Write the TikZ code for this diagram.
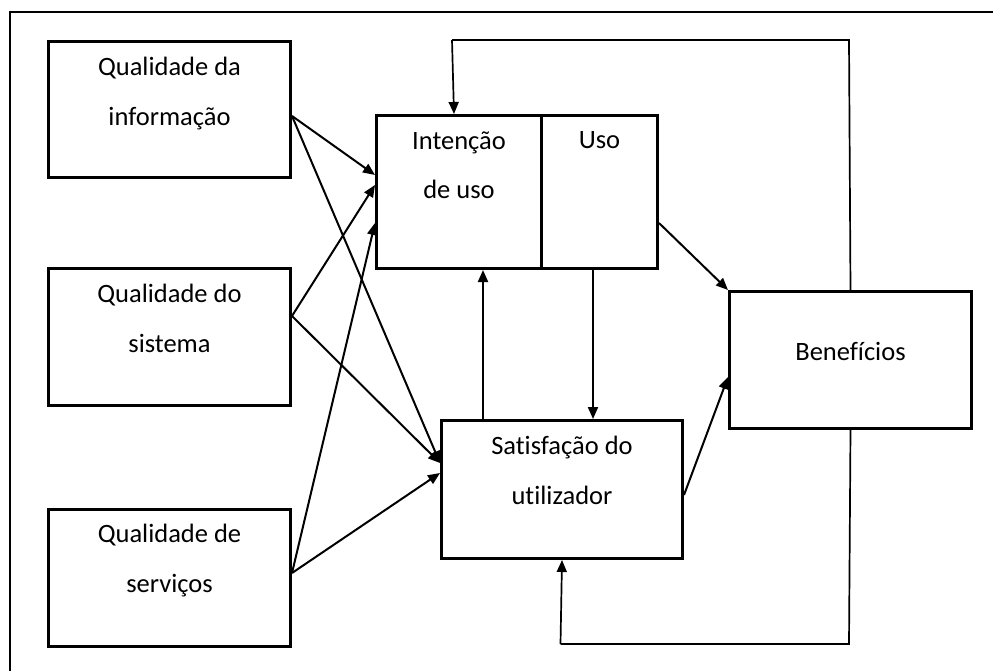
\documentclass[tikz,border=0pt]{standalone}
\usepackage{fontspec}
\setmainfont{Carlito}[Ligatures=NoCommon]
\usetikzlibrary{arrows.meta}
\begin{document}
\begin{tikzpicture}[x=1pt,y=-1pt,
  box/.style={draw, line width=3pt, inner sep=0pt, anchor=north west},
  txt/.style={inner sep=0pt, anchor=base, font=\fontsize{26.5}{30}\selectfont},
  arr/.style={line width=2pt, -{Triangle[length=12pt,width=10pt]}},
  fb/.style={line width=1.7pt},
  frame/.style={line width=2.4pt}]
\useasboundingbox (0,0) rectangle (993,671);
% outer frame (only top and left edges visible)
\coordinate (fa) at (10,671);
\coordinate (fb) at (10,12);
\coordinate (fc) at (993,12);
\draw[frame] (fa) -- (fb) -- (fc);
% boxes
\node[box, minimum width=242pt, minimum height=136pt] (info) at (47,40) {};
\node[box, minimum width=242pt, minimum height=137pt] (sist) at (47,267) {};
\node[box, minimum width=242pt, minimum height=137pt] (serv) at (47,508) {};
\node[box, minimum width=165pt, minimum height=153pt] (int) at (375,114) {};
\node[box, minimum width=116pt, minimum height=153pt] (uso) at (540,114) {};
\node[box, minimum width=241pt, minimum height=138pt] (sat) at (440,419) {};
\node[box, minimum width=242pt, minimum height=137pt] (ben) at (728,290) {};
% texts
\node[txt] (info1) at ([yshift=-36pt]info.north) {Qualidade da};
\node[txt] (info2) at ([yshift=-86pt]info.north) {informação};
\node[txt] (sist1) at ([yshift=-35pt]sist.north) {Qualidade do};
\node[txt] (sist2) at ([yshift=-85pt]sist.north) {sistema};
\node[txt] (serv1) at ([yshift=-34pt]serv.north) {Qualidade de};
\node[txt] (serv2) at ([yshift=-84pt]serv.north) {serviços};
\node[txt] (int1) at ([yshift=-36pt]int.north) {Intenção};
\node[txt] (int2) at ([yshift=-85pt]int.north) {de uso};
\node[txt] (uso1) at ([yshift=-35pt]uso.north) {Uso};
\node[txt] (sat1) at ([yshift=-35pt]sat.north) {Satisfação do};
\node[txt] (sat2) at ([yshift=-85pt]sat.north) {utilizador};
\node[txt] (ben1) at ([yshift=-70pt]ben.north) {Benefícios};
% arrows from qualities
\draw[arr] ([yshift=-76pt]info.north east) -- ([yshift=-61pt]int.north west);
\draw[arr] ([yshift=-76pt]info.north east) -- ([yshift=-44pt]sat.north west);
\draw[arr] ([yshift=-49pt]sist.north east) -- ([yshift=-71pt]int.north west);
\draw[arr] ([yshift=-49pt]sist.north east) -- ([yshift=-44pt]sat.north west);
\draw[arr] ([yshift=-65pt]serv.north east) -- ([yshift=-109pt]int.north west);
\draw[arr] ([yshift=-65pt]serv.north east) -- ([yshift=-54pt]sat.north west);
% between middle boxes
\draw[arr] ([xshift=43pt]sat.north west) -- ([xshift=43pt]sat.north west |- int.south);
\draw[arr] ([xshift=53pt]uso.south west) -- ([xshift=53pt]uso.south west |- sat.north);
\draw[arr] ([yshift=-109pt]uso.north east) -- (ben.north west);
\draw[arr] ([yshift=-76pt]sat.north east) -- ([yshift=-87pt]ben.north west);
% feedback loops
\coordinate (ft) at (849,40);
\coordinate (fl) at (452,40);
\draw[fb] (ben.north) -- (ft) -- (fl);
\draw[arr, line width=1.7pt] (fl) -- ([xshift=-5pt]int.north);
\coordinate (bb) at (849,644);
\coordinate (bl) at (560.5,644);
\draw[fb] (ben.south) -- (bb) -- (bl);
\draw[arr, line width=1.7pt] (bl) -- (sat.south);
\end{tikzpicture}
\end{document}
